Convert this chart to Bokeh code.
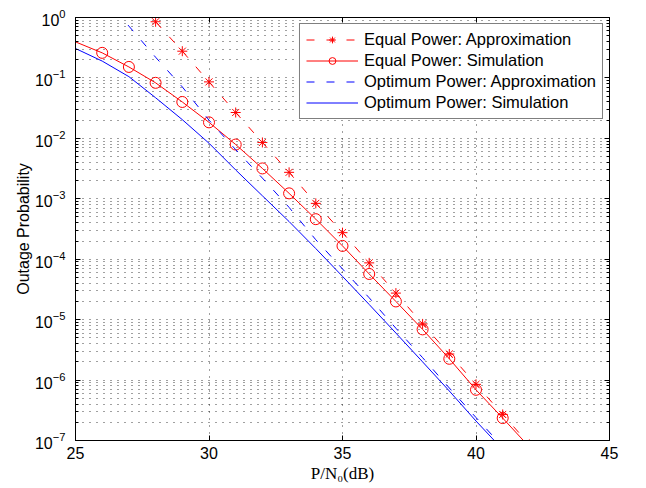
from bokeh.plotting import figure
from bokeh.models import (Range1d, FixedTicker, LinearAxis, LogAxis, Legend,
                          LegendItem, LogTickFormatter, CustomJSTickFormatter)
from bokeh.embed import file_html
from bokeh.resources import INLINE

# ---- data ----
snr_eq_approx = [27, 28, 29, 30, 31, 32, 33, 34, 35, 36, 37, 38, 39, 40, 41, 42]
pout_eq_approx = [2.6, 0.85, 0.277, 0.086, 0.0268, 0.00855, 0.00274, 8.4e-4,
                  2.75e-4, 8.7e-5, 2.75e-5, 8.5e-6, 2.7e-6, 8.5e-7, 2.7e-7, 8.6e-8]

snr_eq_sim = [25, 26, 27, 28, 29, 30, 31, 32, 33, 34, 35, 36, 37, 38, 39, 40, 41, 42]
pout_eq_sim = [0.395, 0.26, 0.152, 0.083, 0.040, 0.0184, 0.0079, 0.00318, 0.00123,
               4.6e-4, 1.66e-4, 5.7e-5, 2.0e-5, 6.9e-6, 2.25e-6, 6.9e-7, 2.35e-7, 7.8e-8]

snr_opt_approx = [26, 27, 28, 29, 30, 31, 32, 33, 34, 35, 36, 37, 38, 39, 40, 41]
pout_opt_approx = [2.4, 0.72, 0.22, 0.071, 0.020, 0.0065, 0.0022, 7.2e-4, 2.1e-4,
                   6.9e-5, 2.3e-5, 7.2e-6, 2.35e-6, 7.4e-7, 2.4e-7, 7.9e-8]

snr_opt_sim = [25, 26, 27, 28, 29, 30, 31, 32, 33, 34, 35, 36, 37, 38, 39, 40, 41]
pout_opt_sim = [0.307, 0.19, 0.105, 0.047, 0.0204, 0.0083, 0.0030, 0.00112, 4.2e-4,
                1.5e-4, 5.2e-5, 1.78e-5, 6.0e-6, 2.0e-6, 6.6e-7, 2.1e-7, 7.1e-8]

x_ticks = [25, 30, 35, 40, 45]
y_ticks = [1e-7, 1e-6, 1e-5, 1e-4, 1e-3, 1e-2, 1e-1, 1e0]
y_minor = [m * 10.0 ** e for e in range(-7, 0) for m in range(2, 10)]

labels = ["Equal Power: Approximation", "Equal Power: Simulation",
          "Optimum Power: Approximation", "Optimum Power: Simulation"]

RED = "#FF0000"
BLUE = "#0000FF"
FONT = "Liberation Sans"

p = figure(frame_width=534, frame_height=423,
           x_range=Range1d(25, 45), y_range=Range1d(1e-7, 1),
           y_axis_type="log", output_backend="svg", toolbar_location=None,
           min_border_left=75, min_border_right=29, min_border_top=17,
           min_border_bottom=40)
p.background_fill_color = "white"
p.border_fill_color = "white"
p.outline_line_color = "black"
p.outline_line_width = 1

# ---- series ----
r1l = p.line(snr_eq_approx, pout_eq_approx, line_color=RED, line_width=1, line_dash="8 12")
r1m = p.scatter(snr_eq_approx, pout_eq_approx, marker="asterisk", size=10,
                line_color=RED, line_width=1)
r2l = p.line(snr_eq_sim, pout_eq_sim, line_color=RED, line_width=1)
r2m = p.scatter(snr_eq_sim[1:-1], pout_eq_sim[1:-1], marker="circle", size=11,
                line_color=RED, fill_alpha=0, line_width=1)
r3l = p.line(snr_opt_approx, pout_opt_approx, line_color=BLUE, line_width=1, line_dash="8 12")
r4l = p.line(snr_opt_sim, pout_opt_sim, line_color=BLUE, line_width=1)

# ---- axes ----
xt = FixedTicker(ticks=x_ticks)
yt = FixedTicker(ticks=y_ticks, minor_ticks=y_minor)
p.xaxis.ticker = xt
p.yaxis.ticker = yt
p.yaxis.formatter = LogTickFormatter()

for ax in (p.xaxis[0], p.yaxis[0]):
    ax.axis_line_color = "black"
    ax.major_tick_in = 5
    ax.major_tick_out = 0
    ax.minor_tick_in = 3
    ax.minor_tick_out = 0
    ax.major_tick_line_color = "black"
    ax.minor_tick_line_color = "black"
    ax.major_label_text_font = FONT
    ax.major_label_text_font_size = "16px"
    ax.major_label_text_color = "black"

p.xaxis.major_label_standoff = 6
p.yaxis.major_label_standoff = 10

p.xaxis.axis_label = "P/N\u2080(dB)"
p.xaxis.axis_label_text_font = "Liberation Serif"
p.xaxis.axis_label_text_font_style = "normal"
p.xaxis.axis_label_text_font_size = "17px"
p.xaxis.axis_label_text_color = "black"
p.xaxis.axis_label_standoff = 2

p.yaxis.axis_label = "Outage Probability"
p.yaxis.axis_label_text_font = FONT
p.yaxis.axis_label_text_font_style = "normal"
p.yaxis.axis_label_text_font_size = "16px"
p.yaxis.axis_label_text_color = "black"
p.yaxis.axis_label_standoff = 0

blank = CustomJSTickFormatter(code="return ''")
top_ax = LinearAxis(ticker=FixedTicker(ticks=x_ticks), formatter=blank,
                    major_tick_in=5, major_tick_out=0, minor_tick_out=0, minor_tick_in=0,
                    major_label_standoff=0)
right_ax = LogAxis(ticker=FixedTicker(ticks=y_ticks, minor_ticks=y_minor), formatter=blank,
                   major_tick_in=5, major_tick_out=0,
                   minor_tick_in=3, minor_tick_out=0, major_label_standoff=0)
p.add_layout(top_ax, "above")
p.add_layout(right_ax, "right")

# ---- grid (MATLAB dotted major + minor) ----
p.xgrid.ticker = xt
p.ygrid.ticker = yt
for g in (p.xgrid[0], p.ygrid[0]):
    g.grid_line_color = "black"
    g.grid_line_alpha = 0.75
    g.grid_line_dash = "1 6"
    g.grid_line_width = 1
p.ygrid.minor_grid_line_color = "black"
p.ygrid.minor_grid_line_alpha = 0.75
p.ygrid.minor_grid_line_dash = "1 6"
p.ygrid.minor_grid_line_width = 1

# ---- legend ----
legend = Legend(items=[
    LegendItem(label=labels[0], renderers=[r1l, r1m]),
    LegendItem(label=labels[1], renderers=[r2l, r2m]),
    LegendItem(label=labels[2], renderers=[r3l]),
    LegendItem(label=labels[3], renderers=[r4l]),
], location="top_right")
legend.label_text_font = FONT
legend.label_text_font_size = "16.5px"
legend.label_text_color = "black"
legend.border_line_color = "black"
legend.border_line_width = 1.5
legend.background_fill_color = "white"
legend.background_fill_alpha = 1
legend.padding = 6
legend.spacing = 2
legend.label_height = 17
legend.glyph_height = 17
legend.glyph_width = 52
legend.label_standoff = 6
legend.margin = 6
p.add_layout(legend)

open("out.html", "w").write(file_html(p, INLINE))
